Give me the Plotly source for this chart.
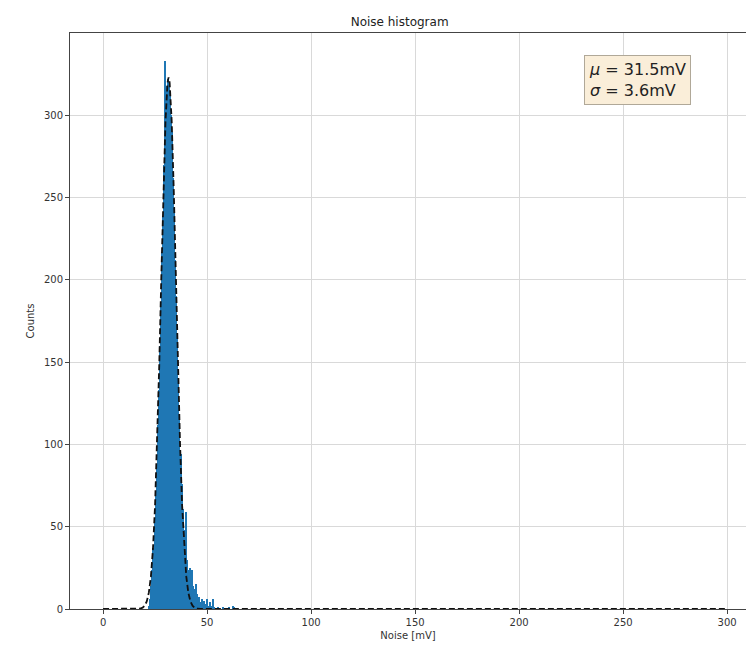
import plotly.graph_objects as go

# ---- data ----
bin_width = 0.5
bin_centers = [
    22.25, 22.75, 23.25, 23.75, 24.25, 24.75, 25.25, 25.75, 26.25, 26.75,
    27.25, 27.75, 28.25, 28.75, 29.25, 29.75, 30.25, 30.75, 31.25, 31.75,
    32.25, 32.75, 33.25, 33.75, 34.25, 34.75, 35.25, 35.75, 36.25, 36.75,
    37.25, 37.75, 38.25, 38.75, 39.25, 39.75, 40.25, 40.75, 41.25, 41.75,
    42.25, 42.75, 43.25, 43.75, 44.25, 44.75, 45.25, 45.75, 46.25, 46.75,
    47.25, 47.75, 48.25, 48.75, 49.25, 49.75, 50.25, 50.75, 51.25, 51.75,
    52.25, 52.75, 53.25, 55.25, 57.75, 60.75, 62.25, 62.75,
]
counts = [
    2, 6, 14, 24, 37, 52, 70, 88, 112, 133,
    160, 186, 217, 238, 270, 333, 305, 318, 322, 320,
    314, 300, 290, 262, 244, 212, 190, 164, 138, 115,
    94, 76, 61, 48, 38, 59, 30, 24, 22, 25,
    18, 24, 14, 12, 10, 15, 9, 6, 7, 4,
    3, 6, 2, 5, 3, 6, 2, 1, 4, 2,
    1, 6, 1, 1, 1, 1, 2, 1,
]

fit_x = [0, 15, 16, 17, 18, 19, 20, 21, 22, 23, 24, 25, 26, 27, 28, 29, 30, 31,
         31.5, 32, 33, 34, 35, 36, 37, 38, 39, 40, 41, 42, 43, 44, 45, 46, 47, 300]
fit_y = [0, 0, 0, 0.1, 0.3, 0.8, 2.0, 4.6, 9.9, 19.8, 36.8, 63.0, 100.6, 147.9,
         201.4, 253.8, 296.2, 319.9, 323, 319.9, 296.2, 253.8, 201.4, 147.9,
         100.6, 63.0, 36.8, 19.8, 9.9, 4.6, 2.0, 0.8, 0.3, 0.1, 0, 0]

mu_label = "31.5mV"
sigma_label = "3.6mV"

x_ticks = [0, 50, 100, 150, 200, 250, 300]
y_ticks = [0, 50, 100, 150, 200, 250, 300]

FONT = "DejaVu Sans"

fig = go.Figure()
fig.add_trace(go.Bar(
    x=bin_centers, y=counts, width=bin_width,
    marker=dict(color="#1f77b4", line=dict(width=0)),
    showlegend=False,
))
fig.add_trace(go.Scatter(
    x=fit_x, y=fit_y, mode="lines",
    line=dict(color="#111111", width=1.8, dash="6px,3px"),
    showlegend=False,
))

fig.add_annotation(
    xref="paper", yref="paper", x=0.8395, y=0.918,
    xanchor="center", yanchor="middle", align="left",
    text=f"<i>μ</i> = {mu_label}<br><i>σ</i> = {sigma_label}",
    showarrow=False,
    font=dict(family=FONT, size=16, color="#222222"),
    bgcolor="#faeed9", bordercolor="#b0a898", borderwidth=1, borderpad=4,
)

fig.update_layout(
    width=746, height=646,
    margin=dict(l=70, r=0, t=33, b=37),
    paper_bgcolor="white", plot_bgcolor="white",
    bargap=0,
    font=dict(family=FONT, size=10, color="#333333"),
    title=dict(text="Noise histogram", x=0.5357, xanchor="center",
               y=1 - 22 / 646, yanchor="middle",
               font=dict(family=FONT, size=12, color="#222222")),
)
fig.update_xaxes(
    range=[-15.9, 309.1], tickvals=x_ticks, ticks="outside", ticklen=4,
    tickcolor="#444444", showline=True, linecolor="#444444", linewidth=1,
    mirror=True, showgrid=True, gridcolor="#d9d9d9", gridwidth=1,
    zeroline=False, layer="above traces",
    title=dict(text="Noise [mV]", standoff=4, font=dict(size=10)),
)
fig.update_yaxes(
    range=[0, 350], tickvals=y_ticks, ticks="outside", ticklen=4,
    tickcolor="#444444", showline=True, linecolor="#444444", linewidth=1,
    mirror=False, showgrid=True, gridcolor="#d9d9d9", gridwidth=1,
    zeroline=False, layer="above traces",
    title=dict(text="Counts", standoff=7, font=dict(size=10)),
)

fig.write_html("out.html")
